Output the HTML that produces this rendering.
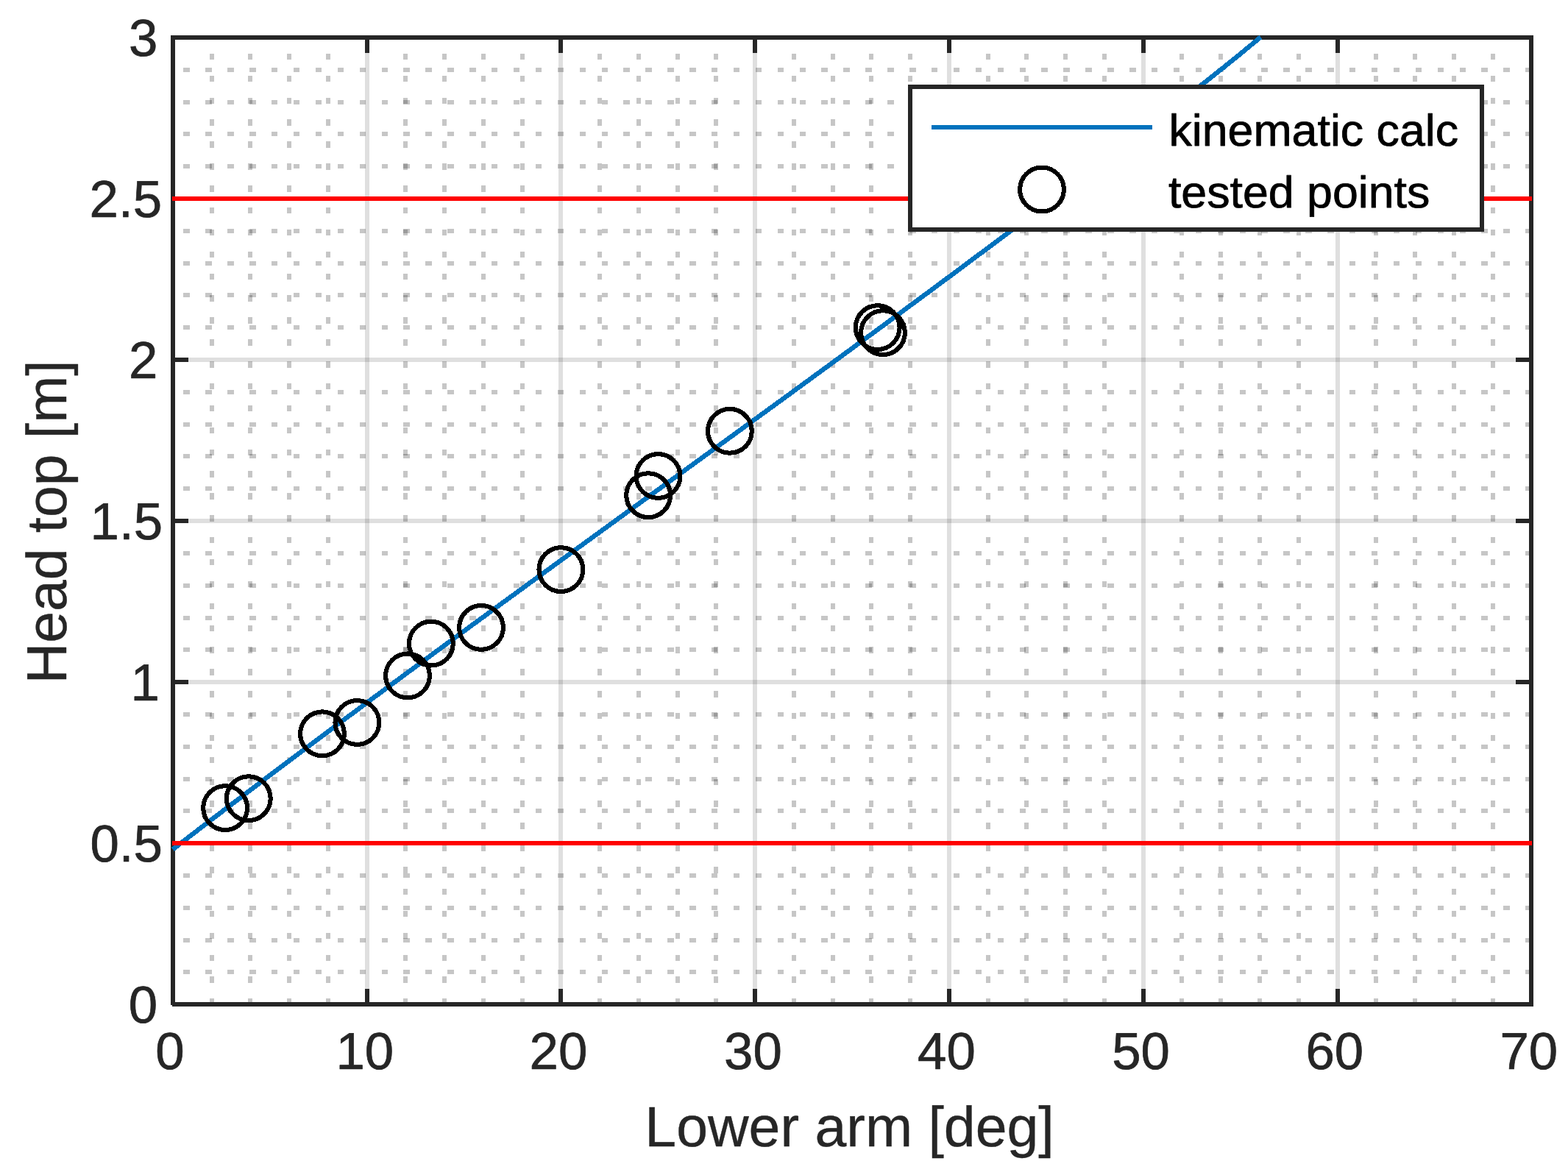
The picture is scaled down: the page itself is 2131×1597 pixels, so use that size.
<!DOCTYPE html>
<html lang="en">
<head>
<meta charset="utf-8">
<title>Head top vs lower arm angle</title>
<style>html,body{margin:0;padding:0;background:#fff}body{width:2131px;height:1597px;overflow:hidden}svg{display:block}</style>
</head>
<body>
<svg xmlns="http://www.w3.org/2000/svg" width="2131" height="1597" viewBox="0 0 2131 1597" font-family="'Liberation Sans', Arial, Helvetica, sans-serif" text-rendering="geometricPrecision">
<rect width="2131" height="1597" fill="#fff"/>
<g shape-rendering="crispEdges" fill="none">
<defs>
<g id="hr">
<rect x="249" y="-3" width="9" height="6"/>
<rect x="279" y="-3" width="9" height="6"/>
<rect x="309" y="-3" width="9" height="6"/>
<rect x="339" y="-3" width="9" height="6"/>
<rect x="369" y="-3" width="8" height="6"/>
<rect x="399" y="-3" width="8" height="6"/>
<rect x="429" y="-3" width="8" height="6"/>
<rect x="459" y="-3" width="8" height="6"/>
<rect x="489" y="-3" width="8" height="6"/>
<rect x="519" y="-3" width="8" height="6"/>
<rect x="548" y="-3" width="9" height="6"/>
<rect x="578" y="-3" width="9" height="6"/>
<rect x="608" y="-3" width="9" height="6"/>
<rect x="638" y="-3" width="9" height="6"/>
<rect x="668" y="-3" width="8" height="6"/>
<rect x="698" y="-3" width="8" height="6"/>
<rect x="728" y="-3" width="8" height="6"/>
<rect x="758" y="-3" width="8" height="6"/>
<rect x="788" y="-3" width="8" height="6"/>
<rect x="818" y="-3" width="8" height="6"/>
<rect x="847" y="-3" width="9" height="6"/>
<rect x="877" y="-3" width="9" height="6"/>
<rect x="907" y="-3" width="9" height="6"/>
<rect x="937" y="-3" width="9" height="6"/>
<rect x="967" y="-3" width="8" height="6"/>
<rect x="997" y="-3" width="8" height="6"/>
<rect x="1027" y="-3" width="8" height="6"/>
<rect x="1057" y="-3" width="8" height="6"/>
<rect x="1087" y="-3" width="8" height="6"/>
<rect x="1116" y="-3" width="9" height="6"/>
<rect x="1146" y="-3" width="9" height="6"/>
<rect x="1176" y="-3" width="9" height="6"/>
<rect x="1206" y="-3" width="9" height="6"/>
<rect x="1236" y="-3" width="9" height="6"/>
<rect x="1266" y="-3" width="8" height="6"/>
<rect x="1296" y="-3" width="8" height="6"/>
<rect x="1326" y="-3" width="8" height="6"/>
<rect x="1356" y="-3" width="8" height="6"/>
<rect x="1386" y="-3" width="8" height="6"/>
<rect x="1415" y="-3" width="9" height="6"/>
<rect x="1445" y="-3" width="9" height="6"/>
<rect x="1475" y="-3" width="9" height="6"/>
<rect x="1505" y="-3" width="9" height="6"/>
<rect x="1535" y="-3" width="9" height="6"/>
<rect x="1565" y="-3" width="8" height="6"/>
<rect x="1595" y="-3" width="8" height="6"/>
<rect x="1625" y="-3" width="8" height="6"/>
<rect x="1655" y="-3" width="8" height="6"/>
<rect x="1685" y="-3" width="8" height="6"/>
<rect x="1714" y="-3" width="9" height="6"/>
<rect x="1744" y="-3" width="9" height="6"/>
<rect x="1774" y="-3" width="9" height="6"/>
<rect x="1804" y="-3" width="9" height="6"/>
<rect x="1834" y="-3" width="8" height="6"/>
<rect x="1864" y="-3" width="8" height="6"/>
<rect x="1894" y="-3" width="8" height="6"/>
<rect x="1924" y="-3" width="8" height="6"/>
<rect x="1954" y="-3" width="8" height="6"/>
<rect x="1984" y="-3" width="8" height="6"/>
<rect x="2013" y="-3" width="9" height="6"/>
<rect x="2043" y="-3" width="9" height="6"/>
<rect x="2073" y="-3" width="5" height="6"/>
</g>
<g id="vc">
<rect x="-3" y="73" width="6" height="8"/>
<rect x="-3" y="103" width="6" height="8"/>
<rect x="-3" y="133" width="6" height="8"/>
<rect x="-3" y="162" width="6" height="9"/>
<rect x="-3" y="192" width="6" height="9"/>
<rect x="-3" y="222" width="6" height="9"/>
<rect x="-3" y="252" width="6" height="9"/>
<rect x="-3" y="282" width="6" height="8"/>
<rect x="-3" y="312" width="6" height="8"/>
<rect x="-3" y="342" width="6" height="8"/>
<rect x="-3" y="372" width="6" height="8"/>
<rect x="-3" y="401" width="6" height="9"/>
<rect x="-3" y="431" width="6" height="9"/>
<rect x="-3" y="461" width="6" height="9"/>
<rect x="-3" y="491" width="6" height="9"/>
<rect x="-3" y="521" width="6" height="8"/>
<rect x="-3" y="551" width="6" height="8"/>
<rect x="-3" y="581" width="6" height="8"/>
<rect x="-3" y="611" width="6" height="8"/>
<rect x="-3" y="640" width="6" height="9"/>
<rect x="-3" y="670" width="6" height="9"/>
<rect x="-3" y="700" width="6" height="9"/>
<rect x="-3" y="730" width="6" height="8"/>
<rect x="-3" y="760" width="6" height="8"/>
<rect x="-3" y="790" width="6" height="8"/>
<rect x="-3" y="820" width="6" height="8"/>
<rect x="-3" y="850" width="6" height="8"/>
<rect x="-3" y="879" width="6" height="9"/>
<rect x="-3" y="909" width="6" height="9"/>
<rect x="-3" y="939" width="6" height="9"/>
<rect x="-3" y="969" width="6" height="8"/>
<rect x="-3" y="999" width="6" height="8"/>
<rect x="-3" y="1029" width="6" height="8"/>
<rect x="-3" y="1059" width="6" height="8"/>
<rect x="-3" y="1088" width="6" height="9"/>
<rect x="-3" y="1118" width="6" height="9"/>
<rect x="-3" y="1148" width="6" height="9"/>
<rect x="-3" y="1178" width="6" height="9"/>
<rect x="-3" y="1208" width="6" height="8"/>
<rect x="-3" y="1238" width="6" height="8"/>
<rect x="-3" y="1268" width="6" height="8"/>
<rect x="-3" y="1298" width="6" height="8"/>
<rect x="-3" y="1327" width="6" height="9"/>
<rect x="-3" y="1357" width="6" height="5"/>
</g>
</defs>
<g fill="#1a1a1a" fill-opacity="0.25">
<use href="#hr" y="1321"/>
<use href="#hr" y="1278"/>
<use href="#hr" y="1234"/>
<use href="#hr" y="1190"/>
<use href="#hr" y="1102"/>
<use href="#hr" y="1059"/>
<use href="#hr" y="1015"/>
<use href="#hr" y="971"/>
<use href="#hr" y="883"/>
<use href="#hr" y="840"/>
<use href="#hr" y="796"/>
<use href="#hr" y="752"/>
<use href="#hr" y="664"/>
<use href="#hr" y="620"/>
<use href="#hr" y="577"/>
<use href="#hr" y="533"/>
<use href="#hr" y="445"/>
<use href="#hr" y="401"/>
<use href="#hr" y="358"/>
<use href="#hr" y="314"/>
<use href="#hr" y="226"/>
<use href="#hr" y="182"/>
<use href="#hr" y="139"/>
<use href="#hr" y="95"/>
<use href="#vc" x="288"/>
<use href="#vc" x="340"/>
<use href="#vc" x="393"/>
<use href="#vc" x="446"/>
<use href="#vc" x="551"/>
<use href="#vc" x="604"/>
<use href="#vc" x="657"/>
<use href="#vc" x="710"/>
<use href="#vc" x="815"/>
<use href="#vc" x="868"/>
<use href="#vc" x="921"/>
<use href="#vc" x="973"/>
<use href="#vc" x="1079"/>
<use href="#vc" x="1132"/>
<use href="#vc" x="1184"/>
<use href="#vc" x="1237"/>
<use href="#vc" x="1343"/>
<use href="#vc" x="1395"/>
<use href="#vc" x="1448"/>
<use href="#vc" x="1501"/>
<use href="#vc" x="1606"/>
<use href="#vc" x="1659"/>
<use href="#vc" x="1712"/>
<use href="#vc" x="1765"/>
<use href="#vc" x="1870"/>
<use href="#vc" x="1923"/>
<use href="#vc" x="1976"/>
<use href="#vc" x="2029"/>
</g>
<g fill="#262626" fill-opacity="0.15">
<rect x="496" y="54" width="6" height="1308"/>
<rect x="759" y="54" width="6" height="1308"/>
<rect x="1023" y="54" width="6" height="1308"/>
<rect x="1287" y="54" width="6" height="1308"/>
<rect x="1551" y="54" width="6" height="1308"/>
<rect x="1815" y="54" width="6" height="1308"/>
<rect x="238" y="1143" width="1840" height="6"/>
<rect x="238" y="924" width="1840" height="6"/>
<rect x="238" y="705" width="1840" height="6"/>
<rect x="238" y="486" width="1840" height="6"/>
<rect x="238" y="267" width="1840" height="6"/>
</g>
</g>
<g shape-rendering="crispEdges" fill="#262626">
<rect x="232" y="48" width="1852" height="6"/>
<rect x="234" y="1362" width="1850" height="6"/>
<rect x="232" y="48" width="6" height="1318"/>
<rect x="2078" y="48" width="6" height="1320"/>
<rect x="496" y="54" width="6" height="18"/>
<rect x="496" y="1344" width="6" height="18"/>
<rect x="759" y="54" width="6" height="18"/>
<rect x="759" y="1344" width="6" height="18"/>
<rect x="1023" y="54" width="6" height="18"/>
<rect x="1023" y="1344" width="6" height="18"/>
<rect x="1287" y="54" width="6" height="18"/>
<rect x="1287" y="1344" width="6" height="18"/>
<rect x="1551" y="54" width="6" height="18"/>
<rect x="1551" y="1344" width="6" height="18"/>
<rect x="1815" y="54" width="6" height="18"/>
<rect x="1815" y="1344" width="6" height="18"/>
<rect x="238" y="1143" width="18" height="6"/>
<rect x="2060" y="1143" width="18" height="6"/>
<rect x="238" y="924" width="18" height="6"/>
<rect x="2060" y="924" width="18" height="6"/>
<rect x="238" y="705" width="18" height="6"/>
<rect x="2060" y="705" width="18" height="6"/>
<rect x="238" y="486" width="18" height="6"/>
<rect x="2060" y="486" width="18" height="6"/>
<rect x="238" y="267" width="18" height="6"/>
<rect x="2060" y="267" width="18" height="6"/>
</g>
<polyline points="234.80,1154.42 259.86,1135.13 284.92,1115.93 309.98,1096.81 335.04,1077.77 360.10,1058.79 385.16,1039.89 410.22,1021.05 435.27,1002.28 460.33,983.56 485.39,964.91 510.45,946.30 535.51,927.75 560.57,909.24 585.63,890.77 610.69,872.35 635.75,853.96 660.81,835.61 685.87,817.28 710.93,798.99 735.99,780.71 761.05,762.46 786.11,744.23 811.16,726.00 836.22,707.80 861.28,689.59 886.34,671.40 911.40,653.20 936.46,635.00 961.52,616.80 986.58,598.58 1011.64,580.36 1036.70,562.12 1061.76,543.86 1086.82,525.58 1111.88,507.27 1136.94,488.94 1161.99,470.58 1187.05,452.18 1212.11,433.74 1237.17,415.26 1262.23,396.74 1287.29,378.17 1312.35,359.54 1337.41,340.87 1362.47,322.13 1387.53,303.34 1412.59,284.48 1437.65,265.56 1462.71,246.56 1487.77,227.49 1512.83,208.34 1537.88,189.11 1562.94,169.80 1588.00,150.41 1613.06,130.92 1638.12,111.34 1663.18,91.50 1688.24,71.19 1713.30,50.40" fill="none" stroke="#0072bd" stroke-width="6.4" stroke-linejoin="round" shape-rendering="crispEdges"/>
<g fill="none" stroke="#000" stroke-width="6.1" shape-rendering="crispEdges">
<circle cx="306.1" cy="1098.1" r="29.9"/>
<circle cx="337.8" cy="1085.2" r="29.9"/>
<circle cx="438" cy="997.3" r="29.9"/>
<circle cx="485.4" cy="982" r="29.9"/>
<circle cx="554" cy="918.4" r="29.9"/>
<circle cx="585.9" cy="874.6" r="29.9"/>
<circle cx="654" cy="852.9" r="29.9"/>
<circle cx="762.4" cy="774.1" r="29.9"/>
<circle cx="881.1" cy="673.2" r="29.9"/>
<circle cx="894.5" cy="647" r="29.9"/>
<circle cx="991.9" cy="585.8" r="29.9"/>
<circle cx="1192.7" cy="445.1" r="29.9"/>
<circle cx="1200" cy="452.1" r="29.9"/>
</g>
<g shape-rendering="crispEdges" fill="#ff0000">
<rect x="234" y="1143" width="1848" height="6"/>
<rect x="234" y="267" width="1848" height="6"/>
</g>
<g>
<rect x="1237" y="118" width="777" height="194" fill="#fff" stroke="#262626" stroke-width="6" shape-rendering="crispEdges"/>
<rect x="1266" y="170" width="300" height="6" fill="#0072bd" shape-rendering="crispEdges"/>
<circle cx="1416" cy="257.5" r="29.9" fill="none" stroke="#000" stroke-width="6.1" shape-rendering="crispEdges"/>
<text transform="translate(1588.39 197.90) scale(1 0.965)" font-size="62.7" fill="#000" stroke="#000" stroke-width="0.8" stroke-linejoin="round">kinematic calc</text>
<text transform="translate(1587.89 281.90) scale(1 0.965)" font-size="62.7" fill="#000" stroke="#000" stroke-width="0.8" stroke-linejoin="round">tested points</text>
</g>
<text transform="translate(211.26 1452.60)" font-size="70.8" fill="#262626" stroke="#262626" stroke-width="0.7" stroke-linejoin="round">0</text>
<text transform="translate(719.53 1452.60)" font-size="70.8" fill="#262626" stroke="#262626" stroke-width="0.7" stroke-linejoin="round">20</text>
<text transform="translate(984.01 1452.60)" font-size="70.8" fill="#262626" stroke="#262626" stroke-width="0.7" stroke-linejoin="round">30</text>
<text transform="translate(1247.04 1452.60)" font-size="70.8" fill="#262626" stroke="#262626" stroke-width="0.7" stroke-linejoin="round">40</text>
<text transform="translate(1511.14 1452.60)" font-size="70.8" fill="#262626" stroke="#262626" stroke-width="0.7" stroke-linejoin="round">50</text>
<text transform="translate(1774.46 1452.60)" font-size="70.8" fill="#262626" stroke="#262626" stroke-width="0.7" stroke-linejoin="round">60</text>
<text transform="translate(2038.44 1452.60)" font-size="70.8" fill="#262626" stroke="#262626" stroke-width="0.7" stroke-linejoin="round">70</text>
<text transform="translate(456.50 1452.60)" font-size="70.8" fill="#262626" stroke="#262626" stroke-width="0.7" stroke-linejoin="round">10</text>
<text transform="translate(175.02 76.10)" font-size="70.8" fill="#262626" stroke="#262626" stroke-width="0.7" stroke-linejoin="round">3</text>
<text transform="translate(121.60 295.10)" font-size="70.8" fill="#262626" stroke="#262626" stroke-width="0.7" stroke-linejoin="round">2.5</text>
<text transform="translate(175.11 514.10)" font-size="70.8" fill="#262626" stroke="#262626" stroke-width="0.7" stroke-linejoin="round">2</text>
<text transform="translate(122.44 1171.10)" font-size="70.8" fill="#262626" stroke="#262626" stroke-width="0.7" stroke-linejoin="round">0.5</text>
<text transform="translate(174.81 1390.10)" font-size="70.8" fill="#262626" stroke="#262626" stroke-width="0.7" stroke-linejoin="round">0</text>
<text transform="translate(122.60 733.10)" font-size="70.8" fill="#262626" stroke="#262626" stroke-width="0.7" stroke-linejoin="round">1.5</text>
<text transform="translate(177.50 952.10)" font-size="70.8" fill="#262626" stroke="#262626" stroke-width="0.7" stroke-linejoin="round">1</text>
<text transform="translate(876.35 1557.95)" font-size="77.0" fill="#262626" stroke="#262626" stroke-width="0.4" stroke-linejoin="round">Lower arm [deg]</text>
<text transform="translate(89.90 929.20) rotate(-90)" font-size="76.8" fill="#262626" stroke="#262626" stroke-width="0.4" stroke-linejoin="round">Head top [m]</text>
</svg>
</body>
</html>
